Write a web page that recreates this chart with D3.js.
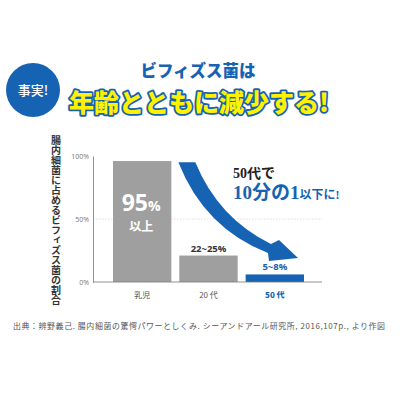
<!DOCTYPE html>
<html>
<head>
<meta charset="utf-8">
<script src="https://cdn.jsdelivr.net/npm/d3@7"></script>
<style>
  body { margin: 0; background: #fff; }
  svg { display: block; }
</style>
</head>
<body>
<div class="canvas"></div>
<script>
// chart data
const categories = ['乳児', '20 代', '50 代'];
const values = [96, 21, 6];
const valueLabels = ['95%以上', '22~25%', '5~8%'];
const yTicks = [0, 50, 100];

const blue = '#1763b3';
const grey = '#9f9f9f';
const jp = '"Noto Sans CJK JP", "Noto Sans", sans-serif';

const svg = d3.select('.canvas')
  .append('svg')
    .attr('width', 400)
    .attr('height', 400);

// header
svg.append('circle')
  .attr('cx', 33).attr('cy', 90).attr('r', 27)
  .attr('fill', blue);

svg.append('text')
  .attr('x', 33).attr('y', 95)
  .attr('text-anchor', 'middle')
  .style('font-family', jp).style('font-size', '13px').style('font-weight', 500)
  .attr('fill', '#fff')
  .text('事実!');

svg.append('text')
  .attr('x', 198).attr('y', 77)
  .attr('text-anchor', 'middle')
  .style('font-family', jp).style('font-size', '16.5px').style('font-weight', 900)
  .attr('fill', blue)
  .text('ビフィズス菌は');

// big yellow title with blue outline
['#fff', blue].forEach((c, i) => {
  svg.append('text')
    .attr('x', 199).attr('y', 112)
    .attr('text-anchor', 'middle')
    .style('font-family', jp).style('font-size', '25px').style('font-weight', 900)
    .attr('fill', '#fff200')
    .attr('stroke', c)
    .attr('stroke-width', i == 0 ? 7 : 3.6)
    .attr('stroke-linejoin', 'round')
    .text('年齢とともに減少する!');
});
svg.append('text')
  .attr('x', 199).attr('y', 112)
  .attr('text-anchor', 'middle')
  .style('font-family', jp).style('font-size', '25px').style('font-weight', 900)
  .attr('fill', '#fff200')
  .text('年齢とともに減少する!');

// scales
const x = d3.scaleBand()
  .domain(categories)
  .range([113, 304])
  .paddingInner(0.12)
  .paddingOuter(0);

const y = d3.scaleLinear()
  .domain([0, 100])
  .range([282, 156]);

// gridline at 50%
svg.append('line')
  .attr('x1', 93).attr('x2', 322)
  .attr('y1', y(50)).attr('y2', y(50))
  .attr('stroke', '#c8c8c8')
  .attr('stroke-width', 0.6)
  .attr('stroke-dasharray', '1.5,1.5');

// bars
svg.selectAll('rect.bar')
  .data(values)
  .enter()
  .append('rect')
    .attr('class', 'bar')
    .attr('x', (d, i) => x(categories[i]))
    .attr('y', d => y(d))
    .attr('width', x.bandwidth())
    .attr('height', d => y(0) - y(d))
    .attr('fill', (d, i) => i == 2 ? blue : grey);

// y axis
const yAxis = d3.axisLeft(y)
  .tickValues(yTicks)
  .tickSize(0)
  .tickPadding(4)
  .tickFormat(d => d + '%');

const yAxisGroup = svg.append('g')
  .attr('transform', 'translate(93,0)')
  .call(yAxis);
yAxisGroup.select('.domain').attr('stroke', '#777').attr('stroke-width', 0.8);
yAxisGroup.selectAll('text')
  .attr('fill', '#777')
  .style('font-family', '"Open Sans", sans-serif')
  .style('font-size', '7px');

// x axis
const xAxisGroup = svg.append('g')
  .attr('transform', `translate(0,${y(0)})`)
  .call(d3.axisBottom(x).tickSize(0).tickPadding(10));
xAxisGroup.select('.domain')
  .attr('d', 'M93,0H322')
  .attr('stroke', '#777').attr('stroke-width', 0.8);
xAxisGroup.selectAll('text')
  .style('font-family', jp)
  .style('font-size', '8px')
  .style('font-weight', (d, i) => i == 2 ? 900 : 400)
  .attr('fill', (d, i) => i == 2 ? blue : '#555');

// vertical y label
svg.append('text')
  .attr('x', 56).attr('y', 135)
  .style('writing-mode', 'vertical-rl')
  .style('font-family', jp).style('font-size', '10px').style('font-weight', 700)
  .attr('fill', '#333')
  .text('腸内細菌に占めるビフィズス菌の割合');

// value labels
const cx = i => x(categories[i]) + x.bandwidth() / 2;

const big = svg.append('text')
  .attr('x', cx(0) - 1).attr('y', 211)
  .attr('text-anchor', 'middle')
  .attr('fill', '#fff')
  .style('font-family', '"Open Sans", sans-serif').style('font-weight', 700);
big.append('tspan').style('font-size', '23px').text('95');
big.append('tspan').style('font-size', '14px').text('%');

svg.append('text')
  .attr('x', cx(0) - 1).attr('y', 231)
  .attr('text-anchor', 'middle')
  .attr('fill', '#fff')
  .style('font-family', jp).style('font-size', '12px').style('font-weight', 700)
  .text('以上');

svg.append('text')
  .attr('x', cx(1)).attr('y', y(values[1]) - 4)
  .attr('text-anchor', 'middle')
  .attr('fill', '#333')
  .style('font-family', '"Open Sans", sans-serif').style('font-size', '9.5px').style('font-weight', 700)
  .text(valueLabels[1]);

svg.append('text')
  .attr('x', cx(2)).attr('y', y(values[2]) - 4)
  .attr('text-anchor', 'middle')
  .attr('fill', blue)
  .style('font-family', '"Open Sans", sans-serif').style('font-size', '9.5px').style('font-weight', 700)
  .text(valueLabels[2]);

// curved arrow from bar 1 to bar 3
const ax0 = x(categories[0]) + x.bandwidth() + 7;
const ay0 = y(95);
const tipX = x(categories[2]) + x.bandwidth() - 6;
const tipY = y(19);
const p = d3.path();
p.moveTo(ax0, ay0);
p.quadraticCurveTo(ax0 + 26, ay0 + 66, tipX - 30, tipY - 5);
p.lineTo(tipX - 29, tipY + 3);
p.lineTo(tipX, tipY);
p.lineTo(tipX - 19, tipY - 18);
p.lineTo(tipX - 27, tipY - 14);
p.quadraticCurveTo(ax0 + 40, ay0 + 56, ax0 + 17, ay0);
p.closePath();
svg.append('path')
  .attr('d', p.toString())
  .attr('fill', blue);

// callout text
svg.append('text')
  .attr('x', 233).attr('y', 178)
  .attr('fill', '#222')
  .style('font-family', '"Liberation Serif", "Noto Sans CJK JP", serif').style('font-size', '14px').style('font-weight', 700)
  .text('50代で');

const c2 = svg.append('text')
  .attr('x', 233).attr('y', 199)
  .attr('fill', blue)
  .style('font-family', '"Liberation Serif", "Noto Sans CJK JP", serif').style('font-weight', 700);
c2.append('tspan').style('font-size', '19px').text('10分の1');
c2.append('tspan').style('font-size', '12px').text('以下に!');

// source
svg.append('text')
  .attr('x', 13).attr('y', 329)
  .attr('fill', '#555')
  .attr('textLength', 372)
  .attr('lengthAdjust', 'spacing')
  .style('font-family', jp).style('font-size', '7.95px')
  .text('出典：辨野義己. 腸内細菌の驚愕パワーとしくみ. シーアンドアール研究所, 2016,107p., より作図');
</script>
</body>
</html>
